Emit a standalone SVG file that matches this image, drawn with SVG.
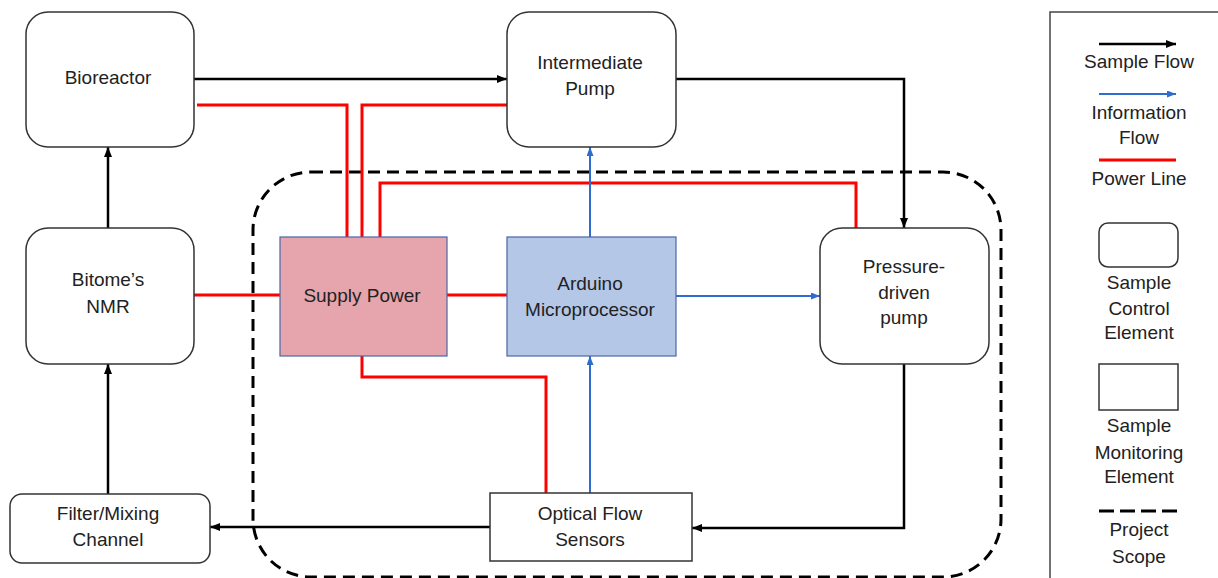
<svg xmlns="http://www.w3.org/2000/svg" width="1218" height="578" viewBox="0 0 1218 578">
<style>
text{font-family:"Liberation Sans",Arial,sans-serif;font-size:19px;fill:#222;text-anchor:middle}
.node{fill:#fff;stroke:#333;stroke-width:1.5}
.blk{fill:none;stroke:#000;stroke-width:2.5}
.red{fill:none;stroke:#ff0000;stroke-width:3}
.blu{fill:none;stroke:#2f6ccf;stroke-width:2}
.scope{fill:none;stroke:#000;stroke-width:3;stroke-dasharray:12 7}
</style>
<defs>
<marker id="ab" markerUnits="userSpaceOnUse" markerWidth="12" markerHeight="12" refX="10" refY="4" orient="auto"><path d="M0,0 L10,4 L0,8 Z" fill="#000"/></marker>
<marker id="au" markerUnits="userSpaceOnUse" markerWidth="12" markerHeight="12" refX="9" refY="3.5" orient="auto"><path d="M0,0 L9,3.5 L0,7 Z" fill="#2f6ccf"/></marker>
</defs>
<rect width="1218" height="578" fill="#fff"/>
<rect class="scope" x="253" y="172" width="748" height="405" rx="58"/>
<g id="connectors">
<path class="red" d="M197,105 H347 V237"/>
<path class="red" d="M507,105 H362 V237"/>
<path class="red" d="M380,237 V183 H856 V228"/>
<path class="red" d="M194,295 H280"/>
<path class="red" d="M447,295 H507"/>
<path class="red" d="M362,356 V377 H546 V493"/>
<path class="blu" d="M590,237 V147" marker-end="url(#au)"/>
<path class="blu" d="M676,296 H820" marker-end="url(#au)"/>
<path class="blu" d="M590,493 V356" marker-end="url(#au)"/>
<path class="blk" d="M194,79 H507" marker-end="url(#ab)"/>
<path class="blk" d="M676,79 H904 V228" marker-end="url(#ab)"/>
<path class="blk" d="M108,228 V147" marker-end="url(#ab)"/>
<path class="blk" d="M108,494 V364" marker-end="url(#ab)"/>
<path class="blk" d="M904,364 V528 H692" marker-end="url(#ab)"/>
<path class="blk" d="M490,527 H210" marker-end="url(#ab)"/>
</g>
<g id="bioreactor"><rect class="node" x="26" y="12" width="168" height="135" rx="22"/><text x="108" y="84">Bioreactor</text></g>
<g id="nmr"><rect class="node" x="26" y="228" width="168" height="136" rx="22"/><text x="108" y="286">Bitome’s</text><text x="108" y="313">NMR</text></g>
<g id="filter"><rect class="node" x="10" y="494" width="200" height="69" rx="12"/><text x="108" y="520">Filter/Mixing</text><text x="108" y="546">Channel</text></g>
<g id="intermediate"><rect class="node" x="507" y="12" width="169" height="135" rx="22"/><text x="590" y="69">Intermediate</text><text x="590" y="95">Pump</text></g>
<g id="pressure"><rect class="node" x="820" y="228" width="169" height="136" rx="22"/><text x="904" y="273">Pressure-</text><text x="904" y="299">driven</text><text x="904" y="324">pump</text></g>
<g id="supply"><rect x="280" y="237" width="167" height="119" fill="#e6a5ac" stroke="#4a66a8" stroke-width="1.2"/><text x="362" y="302">Supply Power</text></g>
<g id="arduino"><rect x="507" y="237" width="169" height="119" fill="#b4c7e7" stroke="#4a66a8" stroke-width="1.2"/><text x="590" y="290">Arduino</text><text x="590" y="316">Microprocessor</text></g>
<g id="optical"><rect class="node" x="490" y="493" width="202" height="68"/><text x="590" y="520">Optical Flow</text><text x="590" y="546">Sensors</text></g>
<g id="legend">
<rect x="1050" y="12" width="200" height="600" fill="#fff" stroke="#444" stroke-width="1.5"/>
<path d="M1099,44 H1176" stroke="#000" stroke-width="2.5" fill="none" marker-end="url(#ab)"/>
<text x="1139" y="68">Sample Flow</text>
<path d="M1099,94 H1176" stroke="#2f6ccf" stroke-width="2" fill="none" marker-end="url(#au)"/>
<text x="1139" y="119">Information</text>
<text x="1139" y="144">Flow</text>
<path d="M1099,160 H1176" stroke="#ff0000" stroke-width="3" fill="none"/>
<text x="1139" y="185">Power Line</text>
<rect x="1099" y="223" width="79" height="44" rx="9" fill="#fff" stroke="#333" stroke-width="1.5"/>
<text x="1139" y="289">Sample</text>
<text x="1139" y="315">Control</text>
<text x="1139" y="339">Element</text>
<rect x="1099" y="364" width="79" height="46" fill="#fff" stroke="#333" stroke-width="1.5"/>
<text x="1139" y="432">Sample</text>
<text x="1139" y="459">Monitoring</text>
<text x="1139" y="483">Element</text>
<path d="M1099,511 H1177" stroke="#000" stroke-width="3" stroke-dasharray="15 6" fill="none"/>
<text x="1139" y="536">Project</text>
<text x="1139" y="563">Scope</text>
</g>
</svg>
